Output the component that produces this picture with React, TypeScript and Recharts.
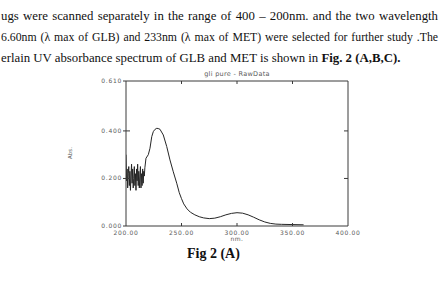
import React from "react";
import { LineChart, Line, XAxis, YAxis, ReferenceLine } from "recharts";

// UV absorbance scan of GLB (gli pure), wavelength in nm
const wavelengthNm: number[] = [
  200, 200.5, 201, 201.5, 202, 202.5, 203, 203.5, 204, 204.5, 205, 205.5,
  206, 206.5, 207, 207.5, 208, 208.5, 209, 209.5, 210, 210.5, 211, 211.5,
  212, 212.5, 213, 213.5, 214, 214.5, 215, 215.5, 216, 216.5, 217, 217.5,
  218, 220.1, 221.6, 223.2, 224.6, 226, 227.7, 229, 230.6, 233.6, 236.7,
  239.6, 242.6, 245.7, 248, 250, 252, 255, 258, 262, 266, 270, 275, 280,
  285, 290, 295, 300, 305, 310, 315, 320, 325, 330, 335, 340, 350, 360,
];
const absorbance: number[] = [
  0.3, 0.19, 0.24, 0.16, 0.22, 0.25, 0.17, 0.23, 0.15, 0.21, 0.26, 0.18,
  0.24, 0.16, 0.2, 0.25, 0.17, 0.22, 0.15, 0.24, 0.19, 0.26, 0.17, 0.23,
  0.16, 0.21, 0.25, 0.16, 0.22, 0.17, 0.24, 0.18, 0.23, 0.21, 0.245, 0.265,
  0.285, 0.3, 0.327, 0.376, 0.397, 0.406, 0.411, 0.41, 0.407, 0.383, 0.334,
  0.278, 0.228, 0.18, 0.14, 0.115, 0.093, 0.072, 0.058, 0.047, 0.039, 0.034,
  0.031, 0.033, 0.039, 0.047, 0.053, 0.056, 0.054, 0.047, 0.037, 0.026,
  0.017, 0.011, 0.008, 0.007, 0.006, 0.005,
];

const xTicks: number[] = [200, 250, 300, 350, 400];
const yTicks: number[] = [0, 0.2, 0.4, 0.61];

const chartTitle = "gli pure - RawData";
const xLabel = "nm.";
const yLabel = "Abs.";

const bodyLine1 =
  "ugs were scanned separately in the range of 400 \u2013 200nm. and the two wavelength";
const bodyLine2 =
  "6.60nm (\u03bb max of GLB) and 233nm (\u03bb max of MET) were selected for further study .The";
const lastLinePlain = "erlain UV absorbance spectrum of GLB and MET is shown in ";
const lastLineBold = "Fig. 2 (A,B,C).";
const caption = "Fig 2 (A)";

const data = wavelengthNm.map((nm, i) => ({ nm, abs: absorbance[i] }));

// plot frame geometry
const W = 443;
const H = 281;
const PLOT_W = 222;
const PLOT_H = 145;
const AXIS_COLOR = "#3a3a3a";
const TEXT_COLOR = "#5a5a5a";
const SMALL_FONT = "'DejaVu Sans', sans-serif";

const XTick = (props: any) => {
  const { x, y, payload } = props;
  const inner = payload.value !== 200 && payload.value !== 400;
  return (
    <g>
      {inner && (
        <>
          <line x1={x} x2={x} y1={y} y2={y - 3} stroke={AXIS_COLOR} strokeWidth={1} />
          <line x1={x} x2={x} y1={y - PLOT_H} y2={y - PLOT_H + 3} stroke={AXIS_COLOR} strokeWidth={1} />
        </>
      )}
      <text
        x={x}
        y={y + 8.5}
        textAnchor="middle"
        fontSize={6}
        letterSpacing={0.7}
        fontFamily={SMALL_FONT}
        fill={TEXT_COLOR}
      >
        {payload.value.toFixed(2)}
      </text>
    </g>
  );
};

const YTick = (props: any) => {
  const { x, y, payload } = props;
  const inner = payload.value !== 0 && payload.value !== 0.61;
  return (
    <g>
      <line x1={x - 3} x2={inner ? x + 4 : x} y1={y} y2={y} stroke={AXIS_COLOR} strokeWidth={1} />
      {inner && (
        <line x1={x + PLOT_W} x2={x + PLOT_W - 4} y1={y} y2={y} stroke={AXIS_COLOR} strokeWidth={1} />
      )}
      <text
        x={x - 4}
        y={y + 2}
        textAnchor="end"
        fontSize={6}
        letterSpacing={0.7}
        fontFamily={SMALL_FONT}
        fill={TEXT_COLOR}
      >
        {payload.value.toFixed(3)}
      </text>
    </g>
  );
};

const serif = "'Liberation Serif', 'Times New Roman', serif";

const lineStyle: React.CSSProperties = {
  position: "absolute",
  left: 1,
  width: 437,
  fontFamily: serif,
  fontSize: 12.8,
  lineHeight: "16px",
  color: "#111",
  textAlign: "justify",
  textAlignLast: "justify",
  whiteSpace: "nowrap",
};

const SQUEEZE = 0.92;

export default function App() {
  return (
    <div
      style={{
        position: "absolute",
        left: 0,
        top: 0,
        width: W,
        height: H,
        background: "#fff",
        overflow: "hidden",
      }}
    >
      <div style={{ ...lineStyle, top: 8 }}>{bodyLine1}</div>
      <div
        style={{
          ...lineStyle,
          top: 29,
          width: 437 / SQUEEZE,
          transform: `scaleX(${SQUEEZE})`,
          transformOrigin: "0 0",
        }}
      >
        {bodyLine2}
      </div>
      <div style={{ ...lineStyle, top: 50, textAlign: "left", textAlignLast: "left" }}>
        {lastLinePlain}
        <b>{lastLineBold}</b>
      </div>

      <div style={{ position: "absolute", left: 0, top: 0 }}>
        <LineChart
          width={W}
          height={H}
          data={data}
          margin={{ top: 81, right: 95, bottom: 25, left: 86 }}
        >
          <XAxis
            dataKey="nm"
            type="number"
            domain={[200, 400]}
            ticks={xTicks}
            allowDataOverflow
            height={30}
            tickSize={0}
            tickMargin={0}
            tickLine={false}
            tick={<XTick />}
            axisLine={{ stroke: AXIS_COLOR, strokeWidth: 1 }}
            interval={0}
          />
          <YAxis
            type="number"
            domain={[0, 0.61]}
            ticks={yTicks}
            allowDataOverflow
            width={40}
            tickSize={0}
            tickMargin={0}
            tickLine={false}
            tick={<YTick />}
            axisLine={{ stroke: AXIS_COLOR, strokeWidth: 1 }}
            interval={0}
          />
          <ReferenceLine y={0.61} stroke={AXIS_COLOR} strokeWidth={1} ifOverflow="visible" />
          <ReferenceLine x={400} stroke={AXIS_COLOR} strokeWidth={1} ifOverflow="visible" />
          <Line
            type="linear"
            dataKey="abs"
            stroke="#262626"
            strokeWidth={1}
            dot={false}
            isAnimationActive={false}
          />
          <text
            x={237}
            y={76}
            textAnchor="middle"
            fontSize={6.5}
            letterSpacing={0.3}
            fontFamily={SMALL_FONT}
            fill={TEXT_COLOR}
          >
            {chartTitle}
          </text>
          <text
            x={237}
            y={241}
            textAnchor="middle"
            fontSize={6}
            letterSpacing={0.5}
            fontFamily={SMALL_FONT}
            fill={TEXT_COLOR}
          >
            {xLabel}
          </text>
          <text
            x={72}
            y={153}
            textAnchor="middle"
            fontSize={5.5}
            fontFamily={SMALL_FONT}
            fill={TEXT_COLOR}
            transform="rotate(-90 72 153)"
          >
            {yLabel}
          </text>
        </LineChart>
      </div>

      <div
        style={{
          position: "absolute",
          left: 187,
          top: 245,
          fontFamily: serif,
          fontWeight: "bold",
          fontSize: 14,
          lineHeight: "17px",
          color: "#111",
          whiteSpace: "nowrap",
        }}
      >
        {caption}
      </div>
    </div>
  );
}
